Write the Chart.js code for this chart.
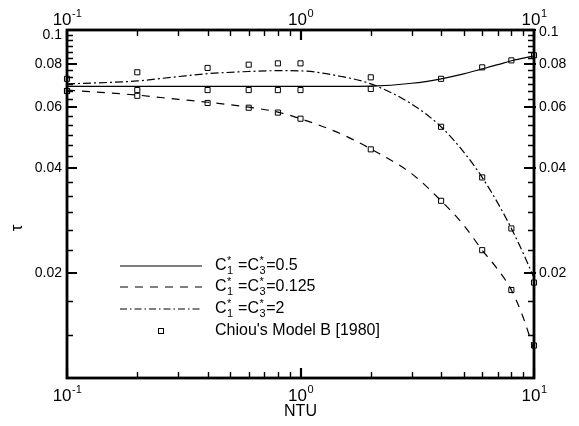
<!DOCTYPE html>
<html>
<head>
<meta charset="utf-8">
<script src="https://cdn.jsdelivr.net/npm/chart.js@4/dist/chart.umd.min.js"></script>
<style>
  html, body { margin: 0; padding: 0; background: #fff; }
  #wrap { width: 579px; height: 426px; }
</style>
</head>
<body>
<div id="wrap"><canvas id="myChart" width="579" height="426"></canvas></div>
<script>
// curves
var ntuLine = [0.1, 0.2, 0.3, 0.4, 0.6, 0.8, 1, 1.5, 2, 3, 4, 5, 6, 7, 8, 9, 10];
var tauC05   = [0.0689, 0.0689, 0.0689, 0.0689, 0.0689, 0.0689, 0.0689, 0.0689, 0.0690, 0.0703, 0.0724, 0.0748, 0.0773, 0.0795, 0.0816, 0.0830, 0.0842];
var tauC0125 = [0.0672, 0.0650, 0.0632, 0.0620, 0.0600, 0.0581, 0.0556, 0.0502, 0.0455, 0.0386, 0.0323, 0.0275, 0.0233, 0.0205, 0.0179, 0.0149, 0.0120];
var tauC2    = [0.0700, 0.0714, 0.0735, 0.0749, 0.0760, 0.0764, 0.0763, 0.0735, 0.0700, 0.0612, 0.0527, 0.0446, 0.0377, 0.0318, 0.0269, 0.0228, 0.0194];

// Chiou's Model B points
var chiouNTU   = [0.1, 0.2, 0.4, 0.6, 0.8, 1, 2, 4, 6, 8, 10];
var chiouC05   = [0.0668, 0.0672, 0.0672, 0.0672, 0.0672, 0.0672, 0.0677, 0.0724, 0.0781, 0.0818, 0.0846];
var chiouC0125 = [0.0668, 0.0647, 0.0617, 0.0598, 0.0579, 0.0556, 0.0454, 0.0323, 0.0233, 0.0179, 0.0124];
var chiouC2    = [0.0724, 0.0756, 0.0778, 0.0795, 0.0802, 0.0802, 0.0731, 0.0527, 0.0377, 0.0269, 0.0188];

// axes
var xMajor = [0.1, 1, 10];
var xMajorExp = ['-1', '0', '1'];
var xMinor = [0.2, 0.3, 0.4, 0.5, 0.6, 0.7, 0.8, 0.9, 2, 3, 4, 5, 6, 7, 8, 9];
var yMajor = [0.02, 0.04, 0.06, 0.08, 0.1];
var yLabels = ['0.02', '0.04', '0.06', '0.08', '0.1'];

function pts(xs, ys) {
    return xs.map(function(x, i){ return {x: x, y: ys[i]}; });
}

var FONT = '"Liberation Sans", Arial, Helvetica, sans-serif';

function lineDs(ys, dash) {
    return {
        data: pts(ntuLine, ys),
        showLine: true,
        borderColor: '#000',
        borderWidth: 1.2,
        borderDash: dash,
        pointRadius: 0,
        cubicInterpolationMode: 'monotone',
        fill: false
    };
}

var markerPts = pts(chiouNTU, chiouC05).concat(pts(chiouNTU, chiouC0125), pts(chiouNTU, chiouC2));

function drawPow(ctx, exp, cx, cy) {
    ctx.font = '17px ' + FONT;
    var wb = ctx.measureText('10').width;
    ctx.font = '11px ' + FONT;
    var we = ctx.measureText(exp).width;
    var x0 = cx - (wb + we) / 2;
    ctx.textAlign = 'left';
    ctx.textBaseline = 'middle';
    ctx.font = '17px ' + FONT;
    ctx.fillText('10', x0, cy);
    ctx.font = '11px ' + FONT;
    ctx.fillText(exp, x0 + wb + 0.5, cy - 6);
}

// text like C*1 =C*3=0.5
function drawLegendText(ctx, x, y, tail) {
    var big = '16px ' + FONT, small = '11px ' + FONT;
    ctx.textAlign = 'left';
    ctx.textBaseline = 'middle';
    var parts = [['C', '1', ' ='], ['C', '3', '=' + tail]];
    parts.forEach(function(p){
        ctx.font = big;
        ctx.fillText(p[0], x, y);
        x += ctx.measureText(p[0]).width;
        ctx.font = small;
        ctx.fillText('*', x + 0.5, y - 5);
        ctx.fillText(p[1], x + 0.5, y + 5);
        x += Math.max(ctx.measureText('*').width, ctx.measureText(p[1]).width) + 1;
        ctx.font = big;
        ctx.fillText(p[2], x, y);
        x += ctx.measureText(p[2]).width;
    });
}

var framePlugin = {
    id: 'frame',
    afterDraw: function(chart) {
        var ctx = chart.ctx, a = chart.chartArea;
        var xs = chart.scales.x, ys = chart.scales.y;
        ctx.save();
        ctx.strokeStyle = '#000';
        ctx.fillStyle = '#000';

        // ticks
        ctx.lineWidth = 1.4;
        ctx.beginPath();
        xMinor.forEach(function(v){
            var px = Math.round(xs.getPixelForValue(v)) + 0.5;
            ctx.moveTo(px, a.top); ctx.lineTo(px, a.top + 6);
            ctx.moveTo(px, a.bottom); ctx.lineTo(px, a.bottom - 6);
        });
        for (var k = 4; k < 30; k++) {
            if (k % 6 === 0) continue;
            var py = Math.round(ys.getPixelForValue(k / 300)) + 0.5;
            ctx.moveTo(a.left, py); ctx.lineTo(a.left + 6, py);
            ctx.moveTo(a.right, py); ctx.lineTo(a.right - 6, py);
        }
        ctx.stroke();
        ctx.lineWidth = 2.2;
        ctx.beginPath();
        xMajor.forEach(function(v){
            var px = Math.round(xs.getPixelForValue(v));
            ctx.moveTo(px, a.top); ctx.lineTo(px, a.top + 10);
            ctx.moveTo(px, a.bottom); ctx.lineTo(px, a.bottom - 10);
        });
        yMajor.forEach(function(v){
            var py = Math.round(ys.getPixelForValue(v));
            ctx.moveTo(a.left, py); ctx.lineTo(a.left + 10, py);
            ctx.moveTo(a.right - 10, py); ctx.lineTo(a.right + 2, py);
        });
        ctx.stroke();

        // frame
        ctx.lineWidth = 2.8;
        ctx.strokeRect(a.left, a.top, a.right - a.left, a.bottom - a.top);

        // tick labels
        xMajor.forEach(function(v, i){
            var px = xs.getPixelForValue(v);
            drawPow(ctx, xMajorExp[i], px, a.bottom + 18);
            drawPow(ctx, xMajorExp[i], px, a.top - 10);
        });
        ctx.font = '14px ' + FONT;
        ctx.textBaseline = 'middle';
        yMajor.forEach(function(v, i){
            var py = ys.getPixelForValue(v);
            if (v >= 0.1) py = a.top + 5;
            ctx.textAlign = 'right';
            ctx.fillText(yLabels[i], a.left - 5, py);
            ctx.textAlign = 'left';
            ctx.fillText(yLabels[i], a.right + 5, v >= 0.1 ? a.top + 2 : py);
        });

        // axis titles
        ctx.font = '16px ' + FONT;
        ctx.textAlign = 'center';
        ctx.fillText('NTU', (a.left + a.right) / 2, 412);
        ctx.save();
        ctx.translate(17, 228);
        ctx.rotate(-Math.PI / 2);
        ctx.font = '17px ' + FONT;
        ctx.fillText('\u03c4', 0, 0);
        ctx.restore();

        // legend
        var lx0 = 120, lx1 = 202, tx = 215;
        var rows = [266, 287, 309, 331];
        var dashes = [[], [8, 7], [7, 3, 1.5, 3]];
        var tails = ['0.5', '0.125', '2'];
        ctx.lineWidth = 1.2;
        for (var r = 0; r < 3; r++) {
            ctx.setLineDash(dashes[r]);
            ctx.beginPath();
            ctx.moveTo(lx0, rows[r]); ctx.lineTo(lx1, rows[r]);
            ctx.stroke();
            ctx.setLineDash([]);
            drawLegendText(ctx, tx, rows[r], tails[r]);
        }
        ctx.lineWidth = 1;
        ctx.strokeRect(158.5, rows[3] - 2.5, 5, 5);
        ctx.font = '16px ' + FONT;
        ctx.textAlign = 'left';
        ctx.fillText("Chiou's Model B [1980]", tx, rows[3]);
        ctx.restore();
    }
};

var ctx = document.getElementById('myChart').getContext('2d');
var myChart = new Chart(ctx, {
    type: 'scatter',
    data: {
        datasets: [
            lineDs(tauC05, []),
            lineDs(tauC0125, [8, 7]),
            lineDs(tauC2, [8, 3, 2, 3]),
            {
                data: markerPts,
                showLine: false,
                pointStyle: 'rect',
                pointRadius: 3.6,
                pointBorderWidth: 1,
                pointBorderColor: '#000',
                pointBackgroundColor: 'rgba(0,0,0,0)',
                clip: false
            }
        ]
    },
    options: {
        responsive: false,
        animation: false,
        devicePixelRatio: 1,
        layout: { padding: { left: 67, right: 45, top: 30, bottom: 48 } },
        scales: {
            x: { type: 'logarithmic', min: 0.1, max: 10, display: false },
            y: { type: 'logarithmic', min: 0.01, max: 0.1, display: false }
        },
        plugins: {
            legend: { display: false },
            tooltip: { enabled: false }
        }
    },
    plugins: [framePlugin]
});
</script>
</body>
</html>
